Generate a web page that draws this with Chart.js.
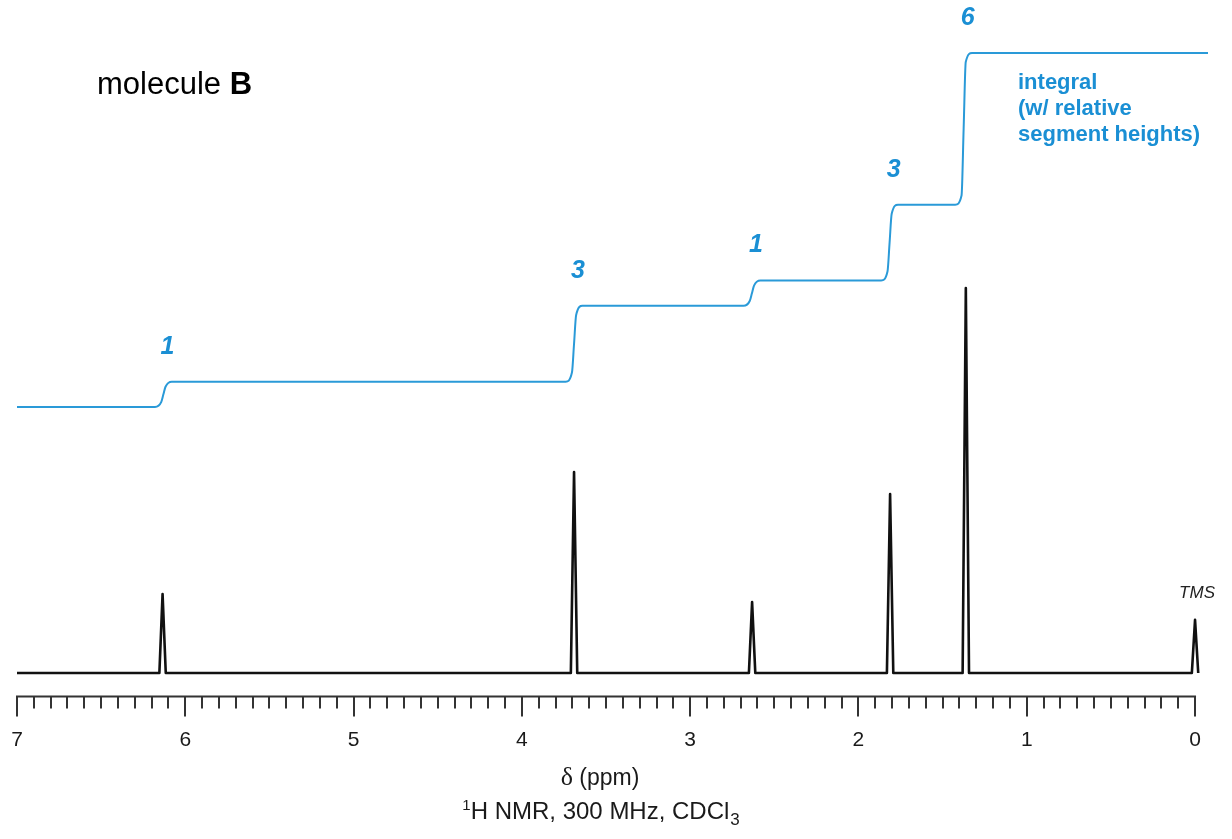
<!DOCTYPE html>
<html><head><meta charset="utf-8">
<script src="https://cdn.jsdelivr.net/npm/chart.js@4.4.1/dist/chart.umd.min.js"></script>
<style>html,body{margin:0;padding:0;background:#fff;}#wrap{width:1232px;height:839px;}</style>
</head><body><div id="wrap"><canvas id="c" width="1232" height="839"></canvas></div>
<script>
// ---- data ----
const peakPpm = [6.135, 3.69, 2.632, 1.812, 1.362, 0.0];
const peakHeight = [20.5, 52.2, 18.4, 46.5, 100, 13.8];
const stepPpm = [6.13, 3.69, 2.633, 1.815, 1.375];
const stepHydrogens = [1, 3, 1, 3, 6];
const majorTicks = [7, 6, 5, 4, 3, 2, 1, 0];
const tickLabels = ['7', '6', '5', '4', '3', '2', '1', '0'];
const spectrumStart = 7.0;
const spectrumEnd = -0.02;
const integralEnd = -0.077;

// ---- shape / style constants ----
const PEAK_HALF_WIDTH = 0.019;      // ppm
const STEP_HALF_WIDTH = 0.05;       // ppm
const STEP_CORNER = 0.36;           // integral units
const BLUE_TEXT = '#1a8fd4';
const BLUE_LINE = '#2a9ad8';
const FONT = '"Liberation Sans", Arial, Helvetica, sans-serif';

// spectrum polyline from the peak list
const spectrum = [{x: spectrumStart, y: 0}];
peakPpm.forEach((p, i) => {
  spectrum.push({x: p + PEAK_HALF_WIDTH, y: 0});
  spectrum.push({x: p, y: peakHeight[i]});
  spectrum.push({x: p - PEAK_HALF_WIDTH, y: 0});
});
spectrum.push({x: spectrumEnd, y: 0});

// integral trace: flat segments with rounded S-shaped steps
const integral = [{x: spectrumStart, y: 0}];
let level = 0;
stepPpm.forEach((p, i) => {
  const d = stepHydrogens[i];
  const w = STEP_HALF_WIDTH;
  const c = Math.min(STEP_CORNER, d * 0.2);
  integral.push({x: p + w, y: level});
  integral.push({x: p + w * 0.25, y: level + c});
  integral.push({x: p, y: level + d / 2});
  integral.push({x: p - w * 0.25, y: level + d - c});
  integral.push({x: p - w, y: level + d});
  level += d;
});
integral.push({x: integralEnd, y: level});

const decor = {
  id: 'decor',
  afterDraw(chart) {
    const ctx = chart.ctx;
    const xs = chart.scales.x, y2 = chart.scales.y2, y = chart.scales.y;
    const axisY = chart.chartArea.bottom + 0.5;
    const x7 = xs.getPixelForValue(7), x0 = xs.getPixelForValue(0);
    ctx.save();
    ctx.strokeStyle = '#333';
    ctx.lineWidth = 2;
    ctx.lineCap = 'butt';
    ctx.beginPath();
    ctx.moveTo(x7 - 1, axisY); ctx.lineTo(x0 + 1, axisY);
    ctx.stroke();
    for (let k = 0; k <= 70; k++) {
      const v = k / 10;
      const px = Math.round(xs.getPixelForValue(v));
      const major = k % 10 === 0;
      ctx.beginPath();
      ctx.moveTo(px, axisY);
      ctx.lineTo(px, axisY + (major ? 20 : 12));
      ctx.stroke();
    }
    ctx.fillStyle = '#1a1a1a';
    ctx.font = '21px ' + FONT;
    ctx.textAlign = 'center';
    ctx.textBaseline = 'middle';
    majorTicks.forEach((v, i) => {
      ctx.fillText(tickLabels[i], xs.getPixelForValue(v), axisY + 44);
    });
    const cx = (x7 + x0) / 2;
    // title line 1: delta (ppm)
    ctx.textAlign = 'left';
    ctx.textBaseline = 'alphabetic';
    ctx.font = '26px "Liberation Serif", "DejaVu Serif", serif';
    const wd = ctx.measureText('\u03B4').width;
    ctx.font = '23px ' + FONT;
    const wr = ctx.measureText(' (ppm)').width;
    let tx0 = cx - (wd + wr) / 2 - 6;
    ctx.font = '26px "Liberation Serif", "DejaVu Serif", serif';
    ctx.fillText('\u03B4', tx0, axisY + 88);
    ctx.font = '23px ' + FONT;
    ctx.fillText(' (ppm)', tx0 + wd, axisY + 88);
    // title line 2 with super/subscript
    const mainTxt = 'H NMR, 300 MHz, CDCl';
    ctx.font = '24px ' + FONT;
    const wMain = ctx.measureText(mainTxt).width;
    ctx.font = '15px ' + FONT;
    const wSup = ctx.measureText('1').width;
    const wSub = ctx.measureText('3').width;
    const total = wSup + wMain + wSub;
    let sx = cx - total / 2 - 6;
    const by = axisY + 122;
    ctx.font = '15px ' + FONT;
    ctx.fillText('1', sx, by - 9);
    sx += wSup;
    ctx.font = '24px ' + FONT;
    ctx.fillText(mainTxt, sx, by);
    sx += wMain + 1;
    ctx.font = '17px ' + FONT;
    ctx.fillText('3', sx, by + 6);

    // molecule label
    ctx.fillStyle = '#000';
    ctx.font = '31px ' + FONT;
    const mTxt = 'molecule ';
    ctx.fillText(mTxt, 97, 94);
    const mw = ctx.measureText(mTxt).width;
    ctx.font = 'bold 31px ' + FONT;
    ctx.fillText('B', 97 + mw, 94);

    // integral numbers
    ctx.fillStyle = BLUE_TEXT;
    ctx.font = 'italic bold 25px ' + FONT;
    ctx.textAlign = 'center';
    ctx.textBaseline = 'middle';
    let lv = 0;
    stepPpm.forEach((p, i) => {
      lv += stepHydrogens[i];
      const tx = xs.getPixelForValue(p) + 4;
      const ty = y2.getPixelForValue(lv) - 35;
      ctx.fillText(String(stepHydrogens[i]), tx, ty);
    });
    // integral legend text
    ctx.font = 'bold 22px ' + FONT;
    ctx.textAlign = 'left';
    ctx.textBaseline = 'alphabetic';
    ctx.fillText('integral', 1018, 89);
    ctx.fillText('(w/ relative', 1018, 115);
    ctx.fillText('segment heights)', 1018, 141);

    // TMS label
    ctx.fillStyle = '#222';
    ctx.font = 'italic 17px ' + FONT;
    ctx.textAlign = 'center';
    const ti = peakPpm.length - 1;
    ctx.fillText('TMS', xs.getPixelForValue(peakPpm[ti]) + 2, y.getPixelForValue(peakHeight[ti]) - 22);
    ctx.restore();
  }
};

new Chart(document.getElementById('c'), {
  type: 'line',
  data: {
    datasets: [
      {
        label: 'spectrum',
        data: spectrum,
        yAxisID: 'y',
        borderColor: '#111',
        borderWidth: 2.6,
        pointRadius: 0,
        tension: 0,
        borderJoinStyle: 'round',
        clip: false
      },
      {
        label: 'integral',
        data: integral,
        yAxisID: 'y2',
        borderColor: BLUE_LINE,
        borderWidth: 2,
        pointRadius: 0,
        cubicInterpolationMode: 'monotone',
        clip: false
      }
    ]
  },
  options: {
    responsive: false,
    devicePixelRatio: 1,
    animation: false,
    layout: {padding: {left: 17, right: 24, top: 10, bottom: 143}},
    scales: {
      x: {type: 'linear', min: integralEnd, max: 7, reverse: true, display: false},
      y: {type: 'linear', min: -5.97, max: 172.2, display: false},
      y2: {type: 'linear', min: -11.43, max: 15.70, display: false}
    },
    plugins: {legend: {display: false}, tooltip: {enabled: false}}
  },
  plugins: [decor]
});
</script>
</body></html>
